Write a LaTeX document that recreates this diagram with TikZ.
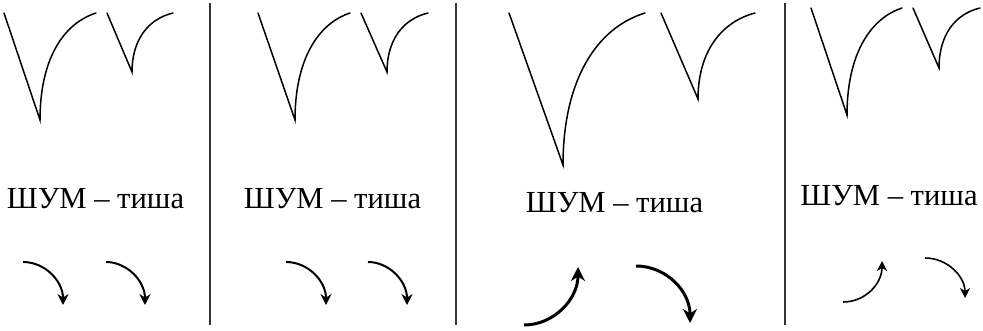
\documentclass[tikz,border=0pt]{standalone}
\usepackage{fontspec}
\setmainfont{Liberation Serif}
\usetikzlibrary{arrows.meta}
\begin{document}
\begin{tikzpicture}[x=0.5pt,y=-0.5pt,
  vline/.style={line width=0.75pt,line cap=round,line join=miter},
  divider/.style={line width=0.8pt,draw=black!80},
  lbl/.style={font=\fontsize{15.3}{18}\selectfont,inner sep=0pt},
  arrthin/.style={line width=1pt,-{Stealth[length=5.5pt,width=5.5pt,inset=1.8pt]}},
  arrthick/.style={line width=1.5pt,-{Stealth[length=7pt,width=7pt,inset=2.2pt]}},
  arrfine/.style={line width=0.8pt,-{Stealth[length=5pt,width=5pt,inset=1.6pt]}}]
\useasboundingbox (0,0) rectangle (983,331);
% dividers
\draw[divider] (210,3) -- (210,325);
\draw[divider] (456,3) -- (456,325);
\draw[divider] (785,3) -- (785,325);
% panel 1
\draw[vline] (4,13) -- (40,120) .. controls (40,61) and (62,24) .. (96,13);
\draw[vline] (107,13) -- (132,72) .. controls (132,40) and (148,19) .. (173,13);
\node[lbl] (t1) at (95.5,199) {ШУМ – тиша};
\draw[arrthin] (23,262) .. controls (45,262) and (63,281) .. (63,305);
\draw[arrthin] (106,262) .. controls (127,262) and (145,281) .. (145,305);
% panel 2
\draw[vline] (258,13) -- (295,120) .. controls (295,61) and (317,24) .. (350,13);
\draw[vline] (361,13) -- (387,72) .. controls (387,40) and (403,19) .. (428,13);
\node[lbl] (t2) at (332.5,199) {ШУМ – тиша};
\draw[arrthin] (286,262) .. controls (308,262) and (326,281) .. (326,305);
\draw[arrthin] (368,262) .. controls (389,262) and (407,281) .. (407,305);
% panel 3
\draw[vline] (509,13) -- (563,165) .. controls (563,81) and (596,28) .. (645,13);
\draw[vline] (661,13) -- (698,99) .. controls (698,52) and (721,22) .. (755,13);
\node[lbl] (t3) at (614.5,203) {ШУМ – тиша};
\draw[arrthick] (524,325) .. controls (554,325) and (578,299) .. (578,267);
\draw[arrthick] (636,266) .. controls (666,266) and (690,291) .. (690,323);
% panel 4
\draw[vline] (811,8) -- (847,115) .. controls (847,56) and (869,19) .. (902,8);
\draw[vline] (913,8) -- (939,68) .. controls (939,35) and (955,14) .. (980,8);
\node[lbl] (t4) at (889,196) {ШУМ – тиша};
\draw[arrfine] (843,302) .. controls (865,302) and (882,284) .. (882,261);
\draw[arrfine] (925,258) .. controls (947,258) and (965,276) .. (965,298);
\end{tikzpicture}
\end{document}
